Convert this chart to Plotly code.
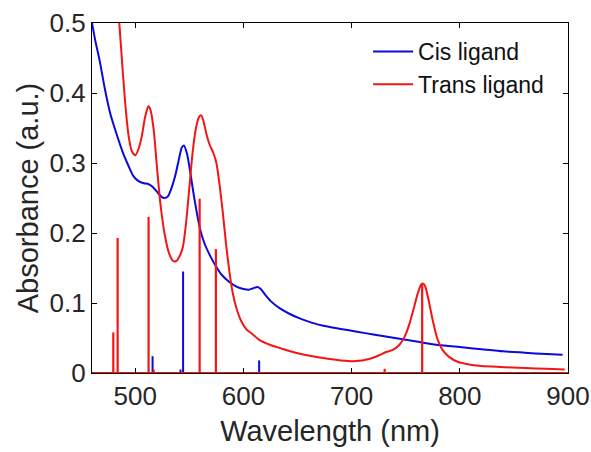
import plotly.graph_objects as go

# ---- data ----
cis_wl = [460, 463, 467, 472, 477, 483, 489, 494, 498, 503, 508, 512, 516, 520, 524, 527,
          530, 533, 537, 540, 543, 545, 548, 551, 554, 557, 560, 564, 569, 574, 580, 587,
          594, 600, 605, 609, 613, 616, 620, 625, 633, 642, 652, 663, 675, 690, 705, 720,
          740, 760, 780, 800, 820, 840, 860, 880, 895]
cis_abs = [0.500, 0.475, 0.447, 0.405, 0.370, 0.340, 0.313, 0.295, 0.282, 0.274, 0.271,
           0.270, 0.266, 0.259, 0.252, 0.250, 0.252, 0.262, 0.282, 0.303, 0.322, 0.325,
           0.312, 0.285, 0.255, 0.228, 0.205, 0.185, 0.168, 0.154, 0.140, 0.130, 0.123,
           0.120, 0.119, 0.121, 0.123, 0.120, 0.112, 0.103, 0.093, 0.085, 0.078, 0.072,
           0.067, 0.063, 0.059, 0.055, 0.050, 0.045, 0.040, 0.037, 0.034, 0.031, 0.029,
           0.027, 0.026]

trans_wl = [483, 485, 488, 491, 494, 497, 500, 503, 506, 509, 512, 514, 517, 520, 523, 527,
            531, 535, 538, 541, 544, 547, 550, 553, 556, 559, 561, 563, 566, 569, 572, 575,
            578, 581, 584, 587, 590, 594, 598, 603, 608, 615, 625, 635, 648, 660, 675, 690,
            704, 716, 725, 732, 738, 744, 749, 753, 757, 761, 764, 766, 768, 771, 775, 779,
            784, 790, 798, 806, 820, 837, 860, 880, 897]
trans_abs = [0.540, 0.505, 0.440, 0.380, 0.337, 0.316, 0.311, 0.320, 0.338, 0.365, 0.381,
             0.376, 0.348, 0.295, 0.245, 0.200, 0.172, 0.160, 0.160, 0.167, 0.180, 0.215,
             0.265, 0.315, 0.349, 0.366, 0.368, 0.360, 0.340, 0.325, 0.315, 0.300, 0.268,
             0.228, 0.183, 0.145, 0.115, 0.090, 0.074, 0.062, 0.056, 0.047, 0.040, 0.035,
             0.029, 0.025, 0.021, 0.018, 0.017, 0.020, 0.025, 0.030, 0.033, 0.040, 0.052,
             0.068, 0.090, 0.113, 0.126, 0.128, 0.124, 0.105, 0.075, 0.050, 0.033, 0.023,
             0.016, 0.013, 0.010, 0.0086, 0.007, 0.006, 0.005]

# calculated transitions (stick spectra)
cis_stick_wl = [516.0, 541.8, 544.2, 614.5]
cis_stick_h = [0.024, 0.005, 0.145, 0.018]
trans_stick_wl = [479.7, 483.7, 512.3, 517.0, 559.5, 574.5, 730.5, 765.2]
trans_stick_h = [0.058, 0.193, 0.223, 0.005, 0.249, 0.177, 0.006, 0.127]

x_range = [460, 900]
y_range = [0, 0.5]
x_ticks = [500, 600, 700, 800, 900]
y_ticks = [0, 0.1, 0.2, 0.3, 0.4, 0.5]
y_tick_text = ["0", "0.1", "0.2", "0.3", "0.4", "0.5"]

BLUE = "#0A0ADC"
RED = "#F51414"


def sticks(xs, hs, baseline=None):
    sx, sy = [], []
    if baseline is not None:
        sx += [baseline[0], baseline[1], None]
        sy += [0, 0, None]
    for x, h in zip(xs, hs):
        sx += [x, x, None]
        sy += [0, h, None]
    return sx, sy


fig = go.Figure()
fig.add_trace(go.Scatter(x=cis_wl, y=cis_abs, mode="lines", name="Cis ligand",
                         line=dict(color=BLUE, width=2, shape="spline", smoothing=0.6)))
fig.add_trace(go.Scatter(x=trans_wl, y=trans_abs, mode="lines", name="Trans ligand",
                         line=dict(color=RED, width=2, shape="spline", smoothing=0.6)))
csx, csy = sticks(cis_stick_wl, cis_stick_h)
fig.add_trace(go.Scatter(x=csx, y=csy, mode="lines", showlegend=False,
                         line=dict(color=BLUE, width=2), hoverinfo="skip"))
tsx, tsy = sticks(trans_stick_wl, trans_stick_h, baseline=x_range)
fig.add_trace(go.Scatter(x=tsx, y=tsy, mode="lines", showlegend=False,
                         line=dict(color=RED, width=2.2), hoverinfo="skip"))

FONT = "Arial, Liberation Sans, sans-serif"
fig.update_layout(
    width=591, height=452,
    margin=dict(l=92, r=23, t=23, b=79),
    paper_bgcolor="white", plot_bgcolor="white",
    font=dict(family=FONT, color="#262626"),
    showlegend=True,
    legend=dict(x=0.58, y=0.98, xanchor="left", yanchor="top",
                bgcolor="rgba(0,0,0,0)", borderwidth=0,
                font=dict(size=23, family=FONT, color="#111111"),
                tracegroupgap=0, itemwidth=40),
)
fig.update_xaxes(range=x_range, tickvals=x_ticks, ticks="inside", ticklen=5, tickwidth=1.3,
                 tickcolor="black", showline=True, linecolor="black", linewidth=1.3,
                 mirror="ticks", showgrid=False, zeroline=False, automargin=False,
                 tickfont=dict(size=26, family=FONT, color="#262626"),
                 title=dict(text="Wavelength (nm)", font=dict(size=29, family=FONT, color="#262626"),
                            standoff=10))
fig.update_yaxes(range=y_range, tickvals=y_ticks, ticktext=y_tick_text, ticks="inside",
                 ticklen=5, tickwidth=1.3, tickcolor="black", showline=True, linecolor="black",
                 linewidth=1.3, mirror="ticks", showgrid=False, zeroline=False, automargin=False,
                 tickfont=dict(size=26, family=FONT, color="#262626"),
                 title=dict(text="Absorbance (a.u.)", font=dict(size=29, family=FONT, color="#262626"),
                            standoff=2))

# remove the default page margin so the 591x452 figure fills the window exactly
fig.write_html("out.html", config={"displayModeBar": False},
               post_script="document.body.style.margin='0';")
